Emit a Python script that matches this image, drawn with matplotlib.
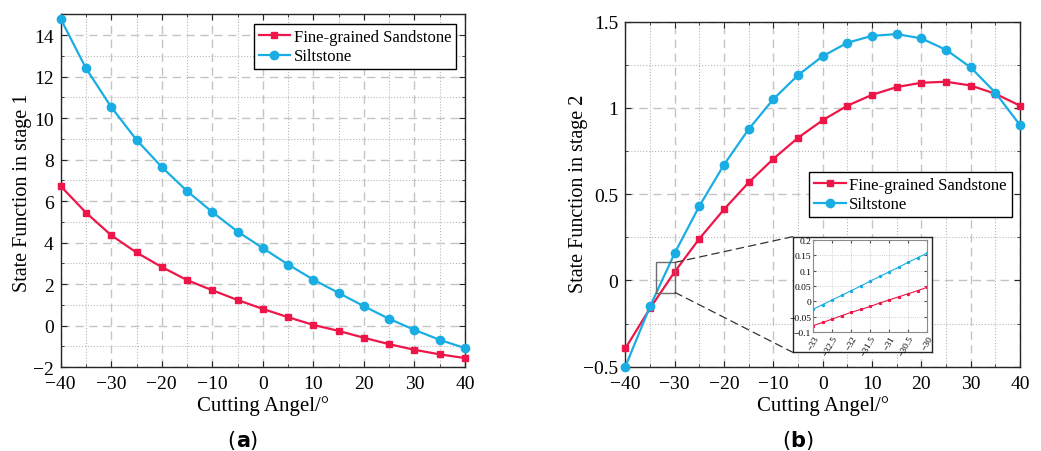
import matplotlib
matplotlib.use("Agg")
import matplotlib.pyplot as plt
from matplotlib.patches import Rectangle, ConnectionPatch
from matplotlib.ticker import MultipleLocator

plt.rcParams['font.family'] = ['Liberation Serif', 'DejaVu Serif']
plt.rcParams['axes.unicode_minus'] = True

# ---------------- data ----------------
angles = [-40, -35, -30, -25, -20, -15, -10, -5, 0, 5, 10, 15, 20, 25, 30, 35, 40]

stage1_sandstone = [6.72, 5.44, 4.35, 3.52, 2.82, 2.19, 1.70, 1.23, 0.80, 0.40,
                    0.03, -0.26, -0.59, -0.90, -1.17, -1.39, -1.57]
stage1_siltstone = [14.78, 12.40, 10.53, 8.95, 7.64, 6.48, 5.47, 4.53, 3.73, 2.94,
                    2.21, 1.57, 0.93, 0.32, -0.21, -0.69, -1.09]

stage2_sandstone = [-0.394, -0.162, 0.050, 0.242, 0.412, 0.568, 0.705, 0.827, 0.929,
                    1.013, 1.076, 1.121, 1.146, 1.152, 1.130, 1.082, 1.013]
stage2_siltstone = [-0.50, -0.151, 0.158, 0.431, 0.671, 0.877, 1.051, 1.190, 1.300,
                    1.378, 1.418, 1.428, 1.403, 1.337, 1.235, 1.088, 0.900]

inset_angles = [-33, -32.75, -32.5, -32.25, -32, -31.75, -31.5, -31.25, -31,
                -30.75, -30.5, -30.25, -30]
inset_sandstone = [-0.078, -0.068, -0.057, -0.046, -0.035, -0.026, -0.016, -0.005,
                   0.005, 0.015, 0.025, 0.035, 0.046]
inset_siltstone = [-0.025, -0.010, 0.005, 0.020, 0.035, 0.050, 0.066, 0.081, 0.096,
                   0.111, 0.127, 0.142, 0.157]

labels = ['Fine-grained Sandstone', 'Siltstone']
RED = '#EE1648'
BLUE = '#1AADE4'

fig = plt.figure(figsize=(10.41, 4.52), dpi=100)


def minus_fmt(v, p):
    return ('%g' % v).replace('-', '\u2212')


def style_axes(ax, xmaj, xmin, ymaj, ymin, fs=14, major_len=4, minor_len=2):
    ax.xaxis.set_major_locator(MultipleLocator(xmaj))
    ax.xaxis.set_minor_locator(MultipleLocator(xmin))
    ax.yaxis.set_major_locator(MultipleLocator(ymaj))
    ax.yaxis.set_minor_locator(MultipleLocator(ymin))
    ax.grid(which='major', linestyle=(0, (6, 4)), color='#c4c4c4', linewidth=1.0)
    ax.grid(which='minor', linestyle=':', color='#b8b8b8', linewidth=0.8)
    ax.set_axisbelow(True)
    ax.tick_params(which='both', direction='in', top=True, right=True,
                   labelsize=fs, color='#262626')
    ax.tick_params(axis='x', which='both', pad=6)
    ax.tick_params(axis='y', which='both', pad=5)
    ax.tick_params(which='major', length=major_len)
    ax.tick_params(which='minor', length=minor_len)
    ax.xaxis.set_major_formatter(plt.FuncFormatter(minus_fmt))
    ax.yaxis.set_major_formatter(plt.FuncFormatter(minus_fmt))
    for s in ax.spines.values():
        s.set_color('#262626')
        s.set_linewidth(1.0)


def make_legend(ax, x, y):
    leg = ax.legend(loc='upper right', bbox_to_anchor=(x, y), borderaxespad=0,
                    fontsize=12, fancybox=False, edgecolor='black', framealpha=1,
                    handlelength=1.9, handletextpad=0.2, labelspacing=0.2,
                    borderpad=0.3)
    leg.get_frame().set_linewidth(1.0)
    return leg


def panel_label(x, y, letter):
    t1 = fig.text(x, y, '(', ha='right', va='baseline', fontsize=15,
                  family='DejaVu Sans')
    t2 = fig.text(0, 0, letter, fontsize=15, family='DejaVu Sans',
                  fontweight='bold', ha='left', va='baseline')
    t3 = fig.text(0, 0, ')', fontsize=15, family='DejaVu Sans',
                  ha='left', va='baseline')
    fig.canvas.draw()
    r = fig.canvas.get_renderer()
    bb1 = t1.get_window_extent(r)
    inv = fig.transFigure.inverted()
    x2 = inv.transform((bb1.x1, 0))[0]
    t2.set_position((x2, y))
    bb2 = t2.get_window_extent(r)
    x3 = inv.transform((bb2.x1, 0))[0]
    t3.set_position((x3, y))


# ---------------- panel (a) ----------------
ax1 = fig.add_axes([0.0583, 0.1858, 0.3884, 0.7803])
ax1.plot(angles, stage1_sandstone, color=RED, marker='s', markersize=5,
         linewidth=1.6, label=labels[0], clip_on=False, zorder=3)
ax1.plot(angles, stage1_siltstone, color=BLUE, marker='o', markersize=6,
         linewidth=1.6, label=labels[1], clip_on=False, zorder=3)
ax1.set_xlim(-40, 40)
ax1.set_ylim(-2, 15)
style_axes(ax1, 10, 5, 2, 1)
ax1.set_xlabel('Cutting Angel/°', fontsize=15, labelpad=2)
ax1.set_ylabel('State Function in stage 1', fontsize=14.5)
ax1.yaxis.set_label_coords(-0.072, 0.497)
make_legend(ax1, 0.978, 0.9725)

# ---------------- panel (b) ----------------
ax2 = fig.add_axes([0.6007, 0.1865, 0.3792, 0.7633])
ax2.plot(angles, stage2_sandstone, color=RED, marker='s', markersize=5,
         linewidth=1.6, label=labels[0], clip_on=False, zorder=3)
ax2.plot(angles, stage2_siltstone, color=BLUE, marker='o', markersize=6,
         linewidth=1.6, label=labels[1], clip_on=False, zorder=3)
ax2.set_xlim(-40, 40)
ax2.set_ylim(-0.5, 1.5)
style_axes(ax2, 10, 5, 0.5, 0.25)
ax2.set_xlabel('Cutting Angel/°', fontsize=15, labelpad=2)
ax2.set_ylabel('State Function in stage 2', fontsize=14.5)
ax2.yaxis.set_label_coords(-0.095, 0.503)
make_legend(ax2, 0.979, 0.5643)

# zoom rectangle
rx0, rx1, ry0, ry1 = -33.8, -29.9, -0.07, 0.105
ax2.add_patch(Rectangle((rx0, ry0), rx1 - rx0, ry1 - ry0, fill=False,
                        edgecolor='#6e6e6e', linewidth=1.0, zorder=4))

# inset frame (outer box)
box = fig.add_axes([0.7615, 0.2184, 0.1341, 0.2558])
box.set_xticks([])
box.set_yticks([])
box.set_facecolor('white')
for s in box.spines.values():
    s.set_color('#262626')
    s.set_linewidth(1.0)

# inset axes
axi = fig.add_axes([0.7813, 0.2626, 0.1095, 0.2049])
axi.plot(inset_angles, inset_sandstone, color=RED, marker='s', markersize=1.3,
         linewidth=0.8)
axi.plot(inset_angles, inset_siltstone, color=BLUE, marker='o', markersize=1.5,
         linewidth=0.8)
axi.set_xlim(-33, -30)
axi.set_ylim(-0.1, 0.2)
axi.xaxis.set_major_locator(MultipleLocator(0.5))
axi.yaxis.set_major_locator(MultipleLocator(0.05))
axi.grid(which='major', linestyle=':', color='#c0c0c0', linewidth=0.6)
axi.set_axisbelow(True)
axi.tick_params(which='both', direction='in', top=True, right=True,
                labelsize=6.8, length=2, pad=1.5, color='#555555')
axi.xaxis.set_major_formatter(plt.FuncFormatter(minus_fmt))
axi.yaxis.set_major_formatter(plt.FuncFormatter(minus_fmt))
for lab in axi.get_xticklabels():
    lab.set_rotation(60)
    lab.set_ha('right')
    lab.set_rotation_mode('anchor')
for s in axi.spines.values():
    s.set_color('#8a8a8a')
    s.set_linewidth(0.8)

# connector lines
for (xa, ya), (xb, yb) in [((rx1, ry1), (0, 1)), ((rx1, ry0), (0, 0))]:
    con = ConnectionPatch(xyA=(xa, ya), coordsA=ax2.transData,
                          xyB=(xb, yb), coordsB=box.transAxes,
                          linestyle=(0, (6, 4)), color='#333333', linewidth=0.9)
    fig.add_artist(con)

panel_label(0.2265, 0.012, 'a')
panel_label(0.7595, 0.012, 'b')

fig.savefig('out.png', dpi=100)
